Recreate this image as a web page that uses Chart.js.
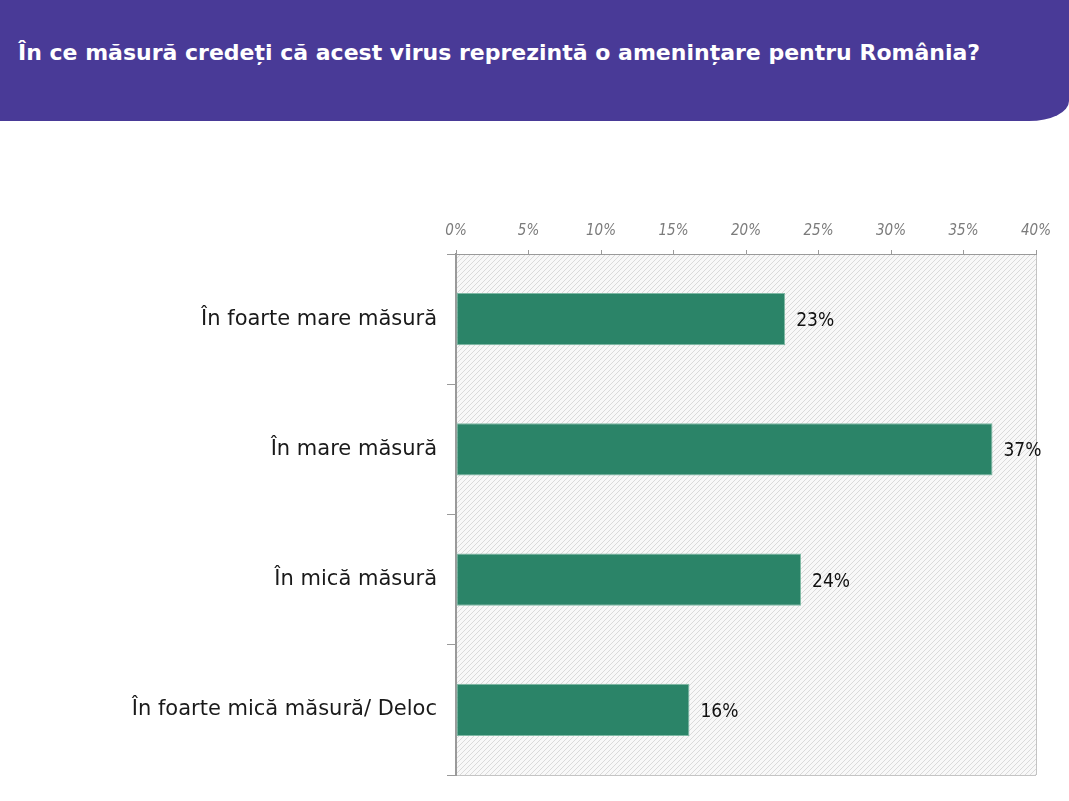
<!DOCTYPE html>
<html lang="ro">
<head>
<meta charset="UTF-8">
<title>Amenintare virus</title>
<script src="https://cdn.jsdelivr.net/npm/chart.js"></script>
<style>
  body { margin: 0; background: #fff; width: 1069px; height: 801px; overflow: hidden; position: relative; }
  .header { position: absolute; left: 0; top: 0; width: 1069px; height: 121px; background: #493a97;
            border-bottom-right-radius: 40px 20px; z-index: 2; }
  .header h1 { margin: 0; position: absolute; left: 18px; top: 40px; color: #fff; white-space: nowrap;
               font-family: "DejaVu Sans", sans-serif; font-weight: 700; font-size: 22px; }
  #wrap { position: absolute; left: 0; top: 0; width: 1069px; height: 801px; }
</style>
</head>
<body>
<div class="header"><h1>În ce măsură credeți că acest virus reprezintă o amenințare pentru România?</h1></div>
<div id="wrap"><canvas id="myChart"></canvas></div>
<script>
const categories = ['În foarte mare măsură', 'În mare măsură', 'În mică măsură', 'În foarte mică măsură/ Deloc'];
const values = [22.7, 37.0, 23.8, 16.1];
const valueLabels = ['23%', '37%', '24%', '16%'];
const tickMax = 40;
const tickStep = 5;

// hatched plot background
function makeHatch(ctx) {
    const c = document.createElement('canvas');
    c.width = 5; c.height = 5;
    const g = c.getContext('2d');
    g.fillStyle = '#f8f8f8';
    g.fillRect(0, 0, 5, 5);
    g.strokeStyle = '#dadada';
    g.lineWidth = 1;
    g.beginPath();
    g.moveTo(-1, 6); g.lineTo(6, -1);
    g.moveTo(-1, 1); g.lineTo(1, -1);
    g.moveTo(4, 6); g.lineTo(6, 4);
    g.stroke();
    return ctx.createPattern(c, 'repeat');
}

const plotBg = {
    id: 'plotBg',
    beforeDraw(chart) {
        const a = chart.chartArea, ctx = chart.ctx;
        ctx.save();
        ctx.fillStyle = makeHatch(ctx);
        ctx.fillRect(a.left, a.top, a.right - a.left, a.bottom - a.top);
        ctx.strokeStyle = '#c4c4c4';
        ctx.lineWidth = 1;
        ctx.beginPath();
        ctx.moveTo(a.right + 0.5, a.top); ctx.lineTo(a.right + 0.5, a.bottom);
        ctx.moveTo(a.left, a.bottom + 0.5); ctx.lineTo(a.right, a.bottom + 0.5);
        ctx.stroke();
        ctx.restore();
    }
};

const barLabels = {
    id: 'barLabels',
    afterDatasetsDraw(chart) {
        const ctx = chart.ctx;
        ctx.save();
        ctx.fillStyle = '#111';
        ctx.font = '19px "DejaVu Sans Condensed", "DejaVu Sans", sans-serif';
        ctx.textBaseline = 'middle';
        chart.getDatasetMeta(0).data.forEach((bar, i) => {
            ctx.fillText(valueLabels[i], bar.x + 11, bar.y + 2);
        });
        ctx.restore();
    }
};

new Chart(document.getElementById('myChart'), {
    type: 'bar',
    data: {
        labels: categories,
        datasets: [{
            data: values,
            backgroundColor: '#2b8468',
            borderColor: '#7fb8a4',
            borderWidth: 1,
            borderSkipped: false,
            categoryPercentage: 0.4,
            barPercentage: 1
        }]
    },
    options: {
        indexAxis: 'y',
        responsive: true,
        maintainAspectRatio: false,
        animation: false,
        layout: { padding: { top: 214, right: 33, bottom: 26, left: 0 } },
        plugins: { legend: { display: false }, tooltip: { enabled: false } },
        scales: {
            x: {
                position: 'top',
                min: 0, max: tickMax,
                ticks: { stepSize: tickStep, callback: v => v + '%', color: '#7b7b7b',
                         font: { family: '"DejaVu Sans Condensed", "DejaVu Sans", sans-serif', size: 15, style: 'italic' }, padding: 10 },
                grid: { drawOnChartArea: false, tickLength: 4, color: '#9a9a9a' },
                border: { color: '#9a9a9a' },
                afterFit(s) { s.height = 40; }
            },
            y: {
                ticks: { color: '#1a1a1a', font: { family: '"DejaVu Sans", sans-serif', size: 21 }, padding: 10 },
                grid: { offset: true, drawOnChartArea: false, tickLength: 9, color: '#9a9a9a' },
                border: { color: '#9a9a9a', width: 2 },
                afterFit(s) { s.width = 456; }
            }
        }
    },
    plugins: [plotBg, barLabels]
});
</script>
</body>
</html>
